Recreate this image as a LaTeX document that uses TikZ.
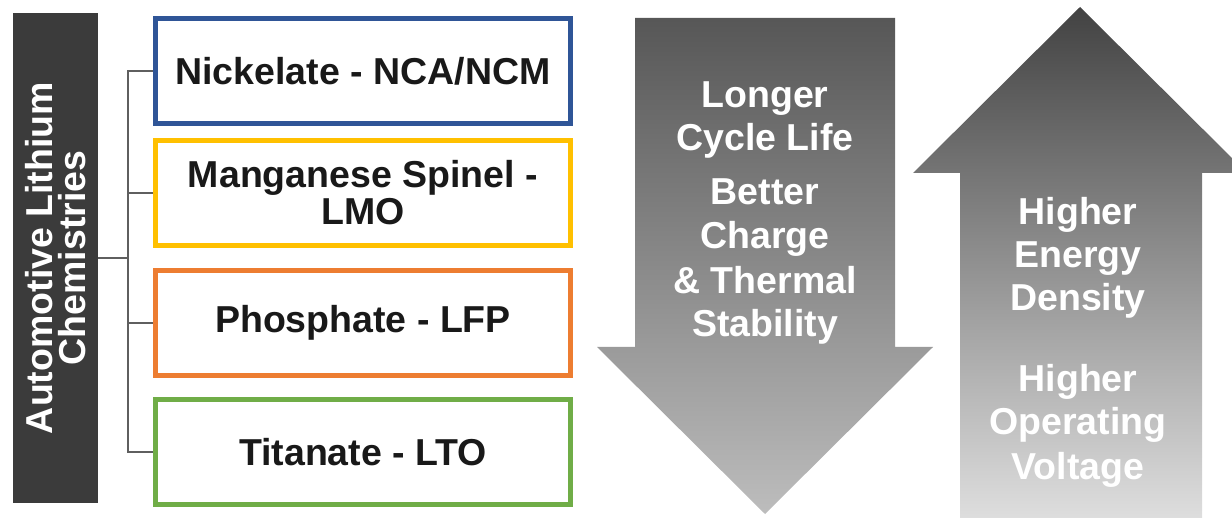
\documentclass[tikz,border=0pt]{standalone}
\usepackage{fontspec}
\setmainfont{Liberation Sans}
\usetikzlibrary{positioning}
\definecolor{barcolor}{RGB}{59,59,59}
\definecolor{nickelcolor}{RGB}{47,85,151}
\definecolor{lmocolor}{RGB}{255,192,0}
\definecolor{lfpcolor}{RGB}{237,125,49}
\definecolor{ltocolor}{RGB}{112,173,71}
\definecolor{linkcolor}{RGB}{95,95,95}

\begin{document}
\begin{tikzpicture}[
    x=1pt, y=-1pt,
    chem/.style={rectangle, draw, line width=5pt, fill=white, minimum width=415pt, minimum height=105pt, align=center, text=black!90, font=\bfseries\fontsize{37.5}{37}\selectfont},
    titlebar/.style={rectangle, fill=barcolor, minimum width=85pt, minimum height=490pt, inner sep=0pt},
    titletext/.style={align=center, text=white, font=\bfseries\fontsize{37.5}{33}\selectfont},
    lbl/.style={anchor=base, inner sep=0pt, text=white, font=\bfseries\fontsize{37.5}{43}\selectfont},
    link/.style={draw=linkcolor, line width=2pt}
]
\useasboundingbox (0,0) rectangle (1232,518);

% Title bar (left)
\node[titlebar] (title) at (55.5,258) {};
\node[titletext, rotate=90] (titlelbl) at (title.center) {Automotive Lithium\\Chemistries};

% Chemistry boxes
\node[chem, draw=nickelcolor] (nca) at (363,71) {Nickelate - NCA/NCM};
\node[chem, draw=lmocolor] (lmo) at (363,193) {Manganese Spinel -\\LMO};
\node[chem, draw=lfpcolor] (lfp) at (363,323) {Phosphate - LFP};
\node[chem, draw=ltocolor] (lto) at (363,452) {Titanate - LTO};

% Tree connectors
\coordinate (trunk) at (128,258);
\draw[link] (title.east) -- (trunk);
\draw[link] (trunk) |- (nca.west);
\draw[link] (trunk) |- (lmo.west);
\draw[link] (trunk) |- (lfp.west);
\draw[link] (trunk) |- (lto.west);

% Down arrow
\shade[top color=black!66, bottom color=black!26]
    (635,18) -- (895,18) -- (895,347) -- (933,347) -- (765,514) -- (597,347) -- (635,347) -- cycle;
\node[lbl] (d1) at (765,108) {Longer};
\node[lbl] (d2) at (765,151) {Cycle Life};
\node[lbl] (d3) at (765,205) {Better};
\node[lbl] (d4) at (765,249) {Charge};
\node[lbl] (d5) at (765,294) {\& Thermal};
\node[lbl] (d6) at (765,337) {Stability};

% Up arrow
\shade[top color=black!74, bottom color=black!13]
    (1080,7) -- (1247,173) -- (1202,173) -- (1202,518) -- (960,518) -- (960,173) -- (913,173) -- cycle;
\node[lbl] (u1) at (1078,225) {Higher};
\node[lbl] (u2) at (1078,268) {Energy};
\node[lbl] (u3) at (1078,311) {Density};
\node[lbl] (u4) at (1078,392) {Higher};
\node[lbl] (u5) at (1078,435) {Operating};
\node[lbl] (u6) at (1078,479) {Voltage};

\end{tikzpicture}
\end{document}
